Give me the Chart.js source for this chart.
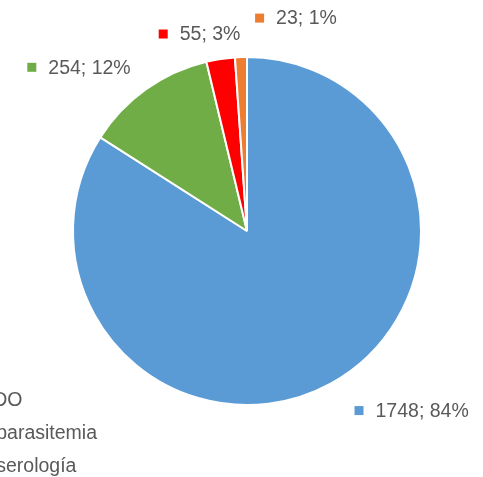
<!DOCTYPE html>
<html>
<head>
<meta charset="utf-8">
<script src="https://cdn.jsdelivr.net/npm/chart.js@4/dist/chart.umd.min.js"></script>
<style>
  html, body { margin: 0; padding: 0; background: #fff; overflow: hidden; }
  #wrap { width: 483px; height: 477px; position: relative; }
</style>
</head>
<body>
<div id="wrap"><canvas id="pieChart" width="483" height="477"></canvas></div>
<script>
// chart data
const categories = ['DESCARTADO', 'Positivo por parasitemia', 'Positivo por serología', 'Otros'];
const values = [1748, 254, 55, 23];
const colors = ['#5B9BD5', '#70AD47', '#FF0000', '#ED7D31'];

// nudges for the data labels (from the outer edge of each slice)
const labelShift = [[81, 27], [-67, -22], [-21, -25], [55, -39]];

const FONT = '19.5px "Liberation Sans", Arial, sans-serif';
const TEXT_COLOR = '#595959';

const total = values.reduce((a, b) => a + b, 0);

// draws "value; pct%" labels with a small colour box, like Excel does
const dataLabels = {
    id: 'dataLabels',
    afterDatasetsDraw(chart) {
        const ctx = chart.ctx;
        const meta = chart.getDatasetMeta(0);
        ctx.save();
        ctx.font = FONT;
        ctx.textBaseline = 'middle';
        meta.data.forEach(function (arc, i) {
            const mid = (arc.startAngle + arc.endAngle) / 2;
            const ox = arc.x + Math.cos(mid) * arc.outerRadius;
            const oy = arc.y + Math.sin(mid) * arc.outerRadius;
            const text = values[i] + '; ' + Math.round(values[i] / total * 100) + '%';
            const tw = ctx.measureText(text).width;
            const boxW = 9, gap = 12;
            const itemW = boxW + gap + tw;
            const cx = ox + labelShift[i][0];
            const cy = oy + labelShift[i][1];
            const left = cx - itemW / 2;
            ctx.fillStyle = colors[i];
            ctx.fillRect(left, cy - boxW / 2, boxW, boxW);
            ctx.fillStyle = TEXT_COLOR;
            ctx.textAlign = 'left';
            ctx.fillText(text, left + boxW + gap, cy + 1);
        });
        ctx.restore();
    }
};

// legend sits at the lower left and is partly cut by the edge
const sideLegend = {
    id: 'sideLegend',
    afterDraw(chart) {
        const ctx = chart.ctx;
        ctx.save();
        ctx.font = FONT;
        ctx.textBaseline = 'middle';
        ctx.textAlign = 'left';
        const x0 = 97 - ctx.measureText(categories[1]).width;
        const y0 = 400, step = 33;
        categories.forEach(function (label, i) {
            const y = y0 + i * step;
            ctx.fillStyle = colors[i];
            ctx.fillRect(x0 - 20, y - 4, 9, 9);
            ctx.fillStyle = TEXT_COLOR;
            ctx.fillText(label, x0, y + 1);
        });
        ctx.restore();
    }
};

document.addEventListener('DOMContentLoaded', function () {
    const ctx = document.getElementById('pieChart').getContext('2d');
    new Chart(ctx, {
        type: 'pie',
        data: {
            labels: categories,
            datasets: [{
                data: values,
                backgroundColor: colors,
                borderColor: '#ffffff',
                borderWidth: 2
            }]
        },
        options: {
            responsive: false,
            animation: false,
            layout: {
                padding: { left: 72, right: 61, top: 56, bottom: 71 }
            },
            plugins: {
                legend: { display: false },
                tooltip: { enabled: false }
            }
        },
        plugins: [dataLabels, sideLegend]
    });
});
</script>
</body>
</html>
